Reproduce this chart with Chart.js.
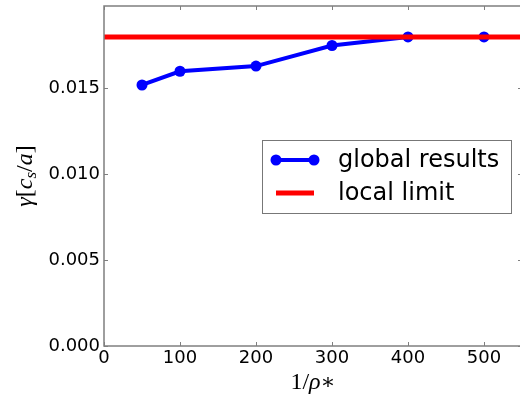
<!DOCTYPE html>
<html>
<head>
<meta charset="utf-8">
<script src="https://cdn.jsdelivr.net/npm/chart.js@4"></script>
<style>
  html, body { margin: 0; padding: 0; background: #fff; overflow: hidden; }
  #wrap { width: 520px; height: 394px; overflow: hidden; }
</style>
</head>
<body>
<div id="wrap"><canvas id="gammaChart" width="540" height="394"></canvas></div>
<script>
// values
const rhoInv = [50, 100, 200, 300, 400, 500];
const gammaGlobal = [0.0152, 0.0160, 0.0163, 0.0175, 0.0180, 0.0180];
const localLimit = 0.018;
const xTicks = [0, 100, 200, 300, 400, 500];
const yTicks = [0.000, 0.005, 0.010, 0.015];
const xRange = [0, 550];
const yRange = [0, 0.0198];

const spineColor = '#7f7f7f';
const tickFont = { family: 'DejaVu Sans', size: 18 };

// frame, inward ticks, math axis labels and the boxed legend
const framePlugin = {
  id: 'frame',
  afterDraw(chart) {
    const ctx = chart.ctx;
    const a = chart.chartArea;
    const xs = chart.scales.x, ys = chart.scales.y;
    ctx.save();
    ctx.strokeStyle = spineColor;
    ctx.lineWidth = 1.5;
    ctx.strokeRect(a.left, a.top, a.right - a.left, a.bottom - a.top);
    ctx.lineWidth = 1;
    ctx.beginPath();
    xTicks.forEach(v => {
      const px = Math.round(xs.getPixelForValue(v)) + 0.5;
      ctx.moveTo(px, a.bottom); ctx.lineTo(px, a.bottom - 4);
      ctx.moveTo(px, a.top); ctx.lineTo(px, a.top + 4);
    });
    yTicks.forEach(v => {
      const py = Math.round(ys.getPixelForValue(v)) + 0.5;
      ctx.moveTo(a.left, py); ctx.lineTo(a.left + 4, py);
      ctx.moveTo(a.right, py); ctx.lineTo(a.right - 4, py);
    });
    ctx.stroke();

    // axis labels
    const serif = 'Liberation Serif';
    ctx.fillStyle = '#000';
    ctx.textBaseline = 'alphabetic';
    function runs(parts) {
      let w = 0;
      parts.forEach(p => { ctx.font = p.f; p.w = ctx.measureText(p.t).width; w += p.w; });
      return w;
    }
    function drawRuns(parts, x0, y0) {
      let x = x0;
      parts.forEach(p => { ctx.font = p.f; ctx.fillText(p.t, x, y0 + (p.dy || 0)); x += p.w; });
    }
    const xl = [
      { t: '1', f: `24px ${serif}` },
      { t: '/', f: `24px ${serif}` },
      { t: 'ρ', f: `italic 24px ${serif}` },
      { t: '∗', f: `22px DejaVu Serif`, dy: 0 }
    ];
    const xw = runs(xl);
    drawRuns(xl, (a.left + a.right) / 2 - xw / 2, 389);

    const yl = [
      { t: 'γ', f: `italic 24px ${serif}` },
      { t: '[', f: `24px ${serif}` },
      { t: 'c', f: `italic 24px ${serif}` },
      { t: 's', f: `italic 17px ${serif}`, dy: 4 },
      { t: '/', f: `24px ${serif}` },
      { t: 'a', f: `italic 24px ${serif}` },
      { t: ']', f: `24px ${serif}` }
    ];
    const yw = runs(yl);
    ctx.save();
    ctx.translate(32, (a.top + a.bottom) / 2);
    ctx.rotate(-Math.PI / 2);
    drawRuns(yl, -yw / 2, 0);
    ctx.restore();

    // legend
    const lx = a.left + 158, ly = a.top + 134, lw = 249, lh = 73;
    ctx.fillStyle = '#fff';
    ctx.fillRect(lx, ly, lw, lh);
    ctx.strokeStyle = '#777';
    ctx.lineWidth = 1;
    ctx.strokeRect(lx + 0.5, ly + 0.5, lw, lh);
    const items = chart.data.datasets.slice().reverse();
    items.forEach((ds, i) => {
      const cy = ly + 20 + i * 33;
      ctx.strokeStyle = ds.borderColor;
      ctx.lineWidth = ds.borderWidth;
      ctx.beginPath();
      ctx.moveTo(lx + 14, cy); ctx.lineTo(lx + 52, cy);
      ctx.stroke();
      if (ds.pointRadius > 0) {
        ctx.fillStyle = ds.pointBackgroundColor;
        [lx + 14, lx + 52].forEach(px => {
          ctx.beginPath(); ctx.arc(px, cy, ds.pointRadius, 0, Math.PI * 2); ctx.fill();
        });
      }
      ctx.fillStyle = '#000';
      ctx.font = '24px DejaVu Sans';
      ctx.textBaseline = 'middle';
      ctx.fillText(ds.label, lx + 76, cy + 1);
    });
    ctx.restore();
  }
};

const ctx = document.getElementById('gammaChart').getContext('2d');
new Chart(ctx, {
  type: 'line',
  data: {
    datasets: [
      {
        label: 'local limit',
        data: xRange.map(x => ({ x: x, y: localLimit })),
        borderColor: '#ff0000',
        borderWidth: 5,
        pointRadius: 0,
        order: 0
      },
      {
        label: 'global results',
        data: rhoInv.map((x, i) => ({ x: x, y: gammaGlobal[i] })),
        borderColor: '#0000ff',
        borderWidth: 4,
        pointRadius: 5.5,
        pointBackgroundColor: '#0000ff',
        pointBorderWidth: 0,
        order: 1
      }
    ]
  },
  options: {
    responsive: false,
    animation: false,
    events: [],
    layout: { padding: { left: 0, top: 6, right: 18, bottom: 0 } },
    plugins: { legend: { display: false }, tooltip: { enabled: false } },
    scales: {
      x: {
        type: 'linear',
        min: xRange[0],
        max: xRange[1],
        afterBuildTicks: s => { s.ticks = xTicks.map(v => ({ value: v })); },
        afterFit: s => { s.height = 48; s.paddingLeft = 0; s.paddingRight = 0; },
        grid: { display: false, drawTicks: false },
        border: { display: false },
        ticks: { font: tickFont, color: '#000', padding: 2, maxRotation: 0 }
      },
      y: {
        type: 'linear',
        min: yRange[0],
        max: yRange[1],
        afterBuildTicks: s => { s.ticks = yTicks.map(v => ({ value: v })); },
        afterFit: s => { s.width = 104; s.paddingTop = 0; s.paddingBottom = 0; },
        grid: { display: false, drawTicks: false },
        border: { display: false },
        ticks: { font: tickFont, color: '#000', padding: 4, callback: v => v.toFixed(3) }
      }
    }
  },
  plugins: [framePlugin]
});
</script>
</body>
</html>
